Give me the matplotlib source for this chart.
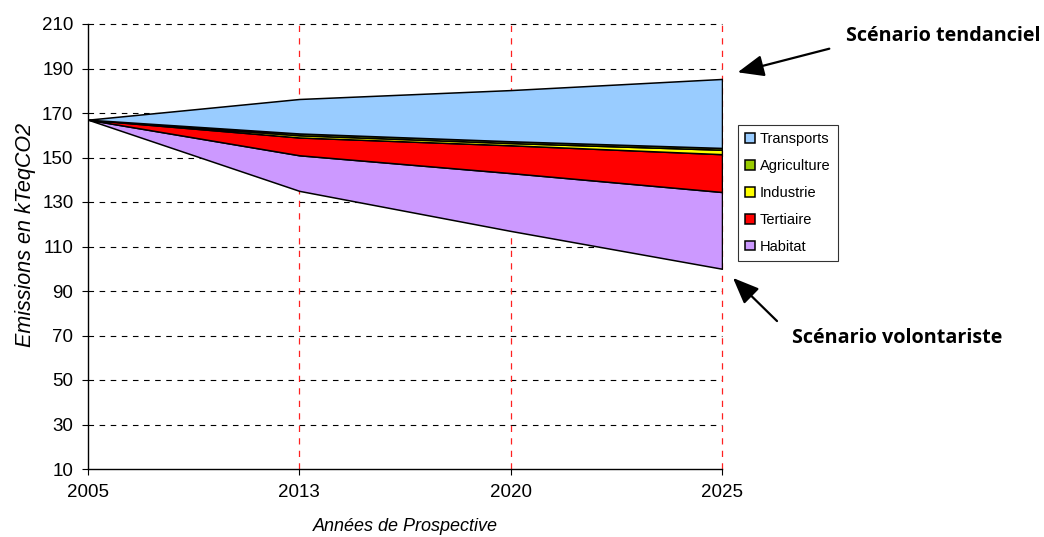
import matplotlib
matplotlib.use("Agg")
import matplotlib.pyplot as plt
import numpy as np

years = ["2005", "2013", "2020", "2025"]
base = [167, 135, 117, 100]
habitat = [0, 16, 26, 34.5]
tertiaire = [0, 8, 12.5, 17]
industrie = [0, 1, 1, 2]
agriculture = [0, 0.8, 0.8, 0.8]
transports = [0, 15.5, 23, 31]

series_names = ["Habitat", "Tertiaire", "Industrie", "Agriculture", "Transports"]
series_vals = [habitat, tertiaire, industrie, agriculture, transports]
colors = ["#CC99FF", "#FF0000", "#FFFF00", "#99CC00", "#99CCFF"]

yticks = list(range(10, 211, 20))

plt.rcParams['font.family'] = ['Liberation Sans', 'DejaVu Sans']

fig = plt.figure(figsize=(10.44, 5.37), dpi=100)
ax = fig.add_axes([88/1044, 68/537, 634/1044, 445/537])

x = np.arange(len(years))
lower = np.array(base, dtype=float)
handles = {}
for name, vals, c in zip(series_names, series_vals, colors):
    upper = lower + np.array(vals, dtype=float)
    h = ax.fill_between(x, lower, upper, facecolor=c, edgecolor="black", linewidth=1.1, zorder=3)
    handles[name] = h
    lower = upper

ax.set_xlim(0, 3)
ax.set_ylim(10, 210)
ax.set_yticks(yticks)
ax.set_xticks(x)
ax.set_xticklabels(years)

for yv in yticks[1:]:
    ax.axhline(yv, color="black", linestyle=(0, (5, 5)), linewidth=0.8, zorder=1, clip_on=False)
for xv in x[1:]:
    ax.axvline(xv, color="#FF2020", linestyle=(0, (5, 5)), linewidth=0.9, zorder=1, clip_on=False)

for s in ["top", "right"]:
    ax.spines[s].set_visible(False)
for s in ["left", "bottom"]:
    ax.spines[s].set_color("black")
    ax.spines[s].set_linewidth(1.0)

ax.tick_params(axis="y", direction="out", length=4.5, labelsize=13.5, pad=6)
ax.tick_params(axis="x", direction="out", length=4, labelsize=13.5, pad=7)

ax.set_ylabel("Emissions en kTeqCO2", fontsize=15.5, style="italic")
ax.yaxis.set_label_coords((36 - 88) / 634, (537 - 235 - 68) / 445)
ax.set_xlabel("Années de Prospective", fontsize=13, style="italic", labelpad=12)

order = ["Transports", "Agriculture", "Industrie", "Tertiaire", "Habitat"]
leg = ax.legend([handles[n] for n in order], order, loc="upper left",
                bbox_to_anchor=(738/1044, 1 - 125/537), bbox_transform=fig.transFigure,
                borderaxespad=0,
                fontsize=10.5, frameon=True, fancybox=False, edgecolor="black",
                handlelength=0.65, handleheight=0.65, handletextpad=0.35,
                labelspacing=0.88, borderpad=0.5)
leg.get_frame().set_linewidth(0.8)

def fx(px):
    return px / 1044
def fy(py):
    return 1 - py / 537

fig.text(fx(943), fy(36), "Scénario tendanciel", fontsize=14.2, fontweight="bold",
         family=["Open Sans", "DejaVu Sans"], ha="center", va="center")
fig.text(fx(897), fy(338), "Scénario volontariste", fontsize=14.2, fontweight="bold",
         family=["Open Sans", "DejaVu Sans"], ha="center", va="center")

ax.annotate("", xy=(fx(735), fy(73)), xycoords="figure fraction",
            xytext=(fx(832), fy(48)), textcoords="figure fraction",
            arrowprops=dict(arrowstyle="-|>,head_length=0.8,head_width=0.33", color="black", lw=1.6, mutation_scale=20))
ax.annotate("", xy=(fx(731), fy(276)), xycoords="figure fraction",
            xytext=(fx(779), fy(323)), textcoords="figure fraction",
            arrowprops=dict(arrowstyle="-|>,head_length=0.8,head_width=0.33", color="black", lw=1.6, mutation_scale=20))

fig.savefig("out.png", dpi=100)
